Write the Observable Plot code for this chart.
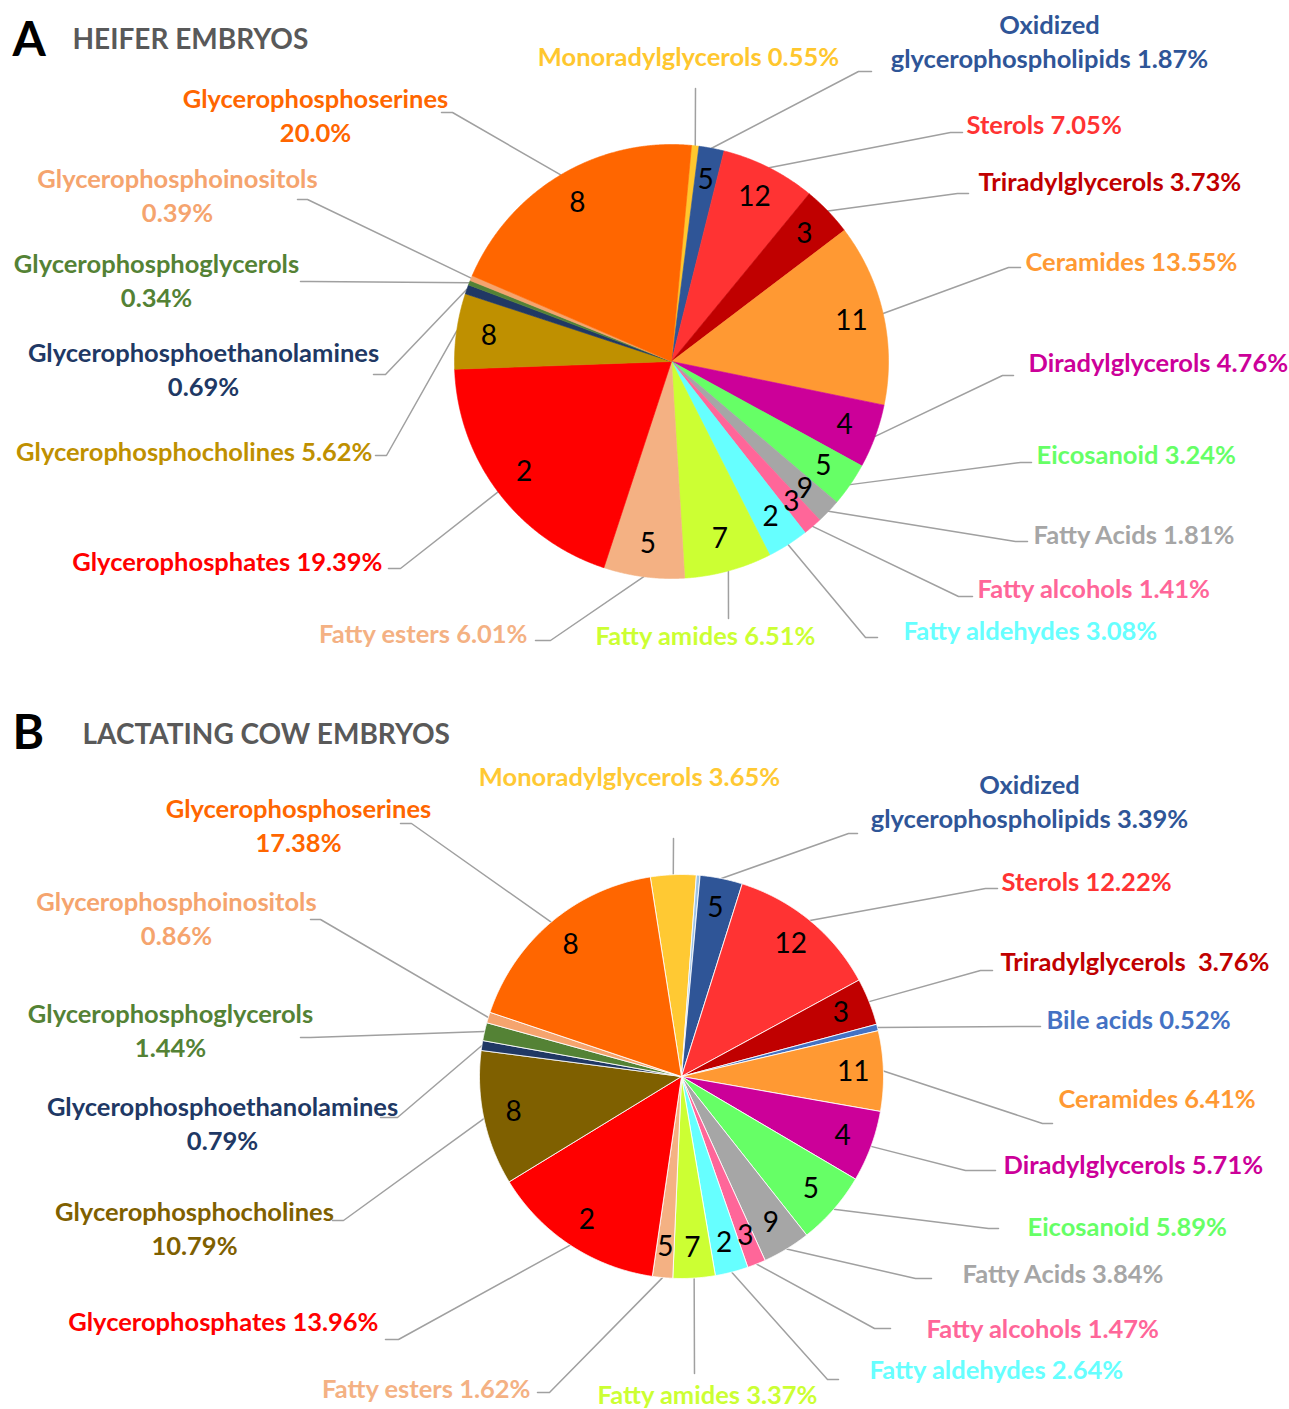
<!DOCTYPE html>
<html>
<head>
<meta charset="utf-8">
<script src="https://cdn.jsdelivr.net/npm/d3@7"></script>
<script src="https://cdn.jsdelivr.net/npm/@observablehq/plot@0.6"></script>
<style>
  html, body { margin: 0; padding: 0; background: #ffffff; }
  #chart svg { display: block; }
</style>
</head>
<body>
<div id="chart"></div>
<script>
// ---------------- DATA ----------------
const panelLetters = ["A", "B"];
const panelTitles = ["HEIFER EMBRYOS", "LACTATING COW EMBRYOS"];

// Panel A: heifer embryos
const categoriesA = ["Monoradylglycerols", "Oxidized glycerophospholipids", "Sterols", "Triradylglycerols", "Ceramides", "Diradylglycerols", "Eicosanoid", "Fatty Acids", "Fatty alcohols", "Fatty aldehydes", "Fatty amides", "Fatty esters", "Glycerophosphates", "Glycerophosphocholines", "Glycerophosphoethanolamines", "Glycerophosphoglycerols", "Glycerophosphoinositols", "Glycerophosphoserines"];
const percentA = [0.55, 1.87, 7.05, 3.73, 13.55, 4.76, 3.24, 1.81, 1.41, 3.08, 6.51, 6.01, 19.39, 5.62, 0.69, 0.34, 0.39, 20.0];
const countsA = [null, 5, 12, 3, 11, 4, 5, 9, 3, 2, 7, 5, 2, 8, null, null, null, 8];
const labelsA = ["Monoradylglycerols 0.55%", "Oxidized\nglycerophospholipids 1.87%", "Sterols 7.05%", "Triradylglycerols 3.73%", "Ceramides 13.55%", "Diradylglycerols 4.76%", "Eicosanoid 3.24%", "Fatty Acids 1.81%", "Fatty alcohols 1.41%", "Fatty aldehydes 3.08%", "Fatty amides 6.51%", "Fatty esters 6.01%", "Glycerophosphates 19.39%", "Glycerophosphocholines 5.62%", "Glycerophosphoethanolamines\n0.69%", "Glycerophosphoglycerols\n0.34%", "Glycerophosphoinositols\n0.39%", "Glycerophosphoserines\n20.0%"];
const colorsA = ["#FFC72E", "#2F5597", "#FF3333", "#C00000", "#FF9933", "#CC0099", "#66FF66", "#A6A6A6", "#FF6699", "#66FFFF", "#CCFF33", "#F4B183", "#FF0000", "#BF9000", "#203864", "#548235", "#F5A46E", "#FF6600"];

// Panel B: lactating cow embryos (one thin unlabeled sliver after Monoradylglycerols)
const categoriesB = ["Monoradylglycerols", "(unlabeled)", "Oxidized glycerophospholipids", "Sterols", "Triradylglycerols", "Bile acids", "Ceramides", "Diradylglycerols", "Eicosanoid", "Fatty Acids", "Fatty alcohols", "Fatty aldehydes", "Fatty amides", "Fatty esters", "Glycerophosphates", "Glycerophosphocholines", "Glycerophosphoethanolamines", "Glycerophosphoglycerols", "Glycerophosphoinositols", "Glycerophosphoserines"];
const percentB = [3.65, 0.29, 3.39, 12.22, 3.76, 0.52, 6.41, 5.71, 5.89, 3.84, 1.47, 2.64, 3.37, 1.62, 13.96, 10.79, 0.79, 1.44, 0.86, 17.38];
const countsB = [null, null, 5, 12, 3, null, 11, 4, 5, 9, 3, 2, 7, 5, 2, 8, null, null, null, 8];
const labelsB = ["Monoradylglycerols 3.65%", null, "Oxidized\nglycerophospholipids 3.39%", "Sterols 12.22%", "Triradylglycerols\u00a0 3.76%", "Bile acids 0.52%", "Ceramides 6.41%", "Diradylglycerols 5.71%", "Eicosanoid 5.89%", "Fatty Acids 3.84%", "Fatty alcohols 1.47%", "Fatty aldehydes 2.64%", "Fatty amides 3.37%", "Fatty esters 1.62%", "Glycerophosphates 13.96%", "Glycerophosphocholines\n10.79%", "Glycerophosphoethanolamines\n0.79%", "Glycerophosphoglycerols\n1.44%", "Glycerophosphoinositols\n0.86%", "Glycerophosphoserines\n17.38%"];
const colorsB = ["#FFC933", "#9DC3E6", "#2F5597", "#FF3333", "#C00000", "#4472C4", "#FF9933", "#CC0099", "#66FF66", "#A6A6A6", "#FF6699", "#66FFFF", "#CCFF33", "#F4B183", "#FF0000", "#7F6000", "#203864", "#548235", "#F5A46E", "#FF6600"];

// ---------------- LAYOUT ----------------
const W = 1289, H = 1409;
const pieA = {id: "A", cx: 671, cy: 361, r: 217, rot: 5.3, stroke: null};
const pieB = {id: "B", cx: 681, cy: 1076, r: 202, rot: -8.9, stroke: "#ffffff"};
// label placement: [textX, textY, anchor, elbowX, elbowY, leaderEndX]
const labelPosA = [
  [688, 55, "middle", 695, 88, 695],
  [1049, 40, "middle", 858, 71, 871],
  [966, 123, "start", 950, 132, 962],
  [978, 180, "start", 957, 193, 968],
  [1025, 260, "start", 1008, 267, 1020],
  [1028, 361, "start", 1002, 375, 1013],
  [1036, 453, "start", 1020, 462, 1031],
  [1033, 533, "start", 1015, 541, 1027],
  [977, 587, "start", 958, 596, 972],
  [903, 629, "start", 865, 637, 877],
  [705, 634, "middle", 728, 618, 728],
  [527, 632, "end", 550, 640, 535],
  [382, 560, "end", 400, 568, 388],
  [372, 450, "end", 386, 455, 375],
  [203, 368, "middle", 385, 374, 373],
  [156, 279, "middle", 310, 281, 300],
  [177, 194, "middle", 307, 199, 297],
  [315, 114, "middle", 452, 112, 441]
];
const labelPosB = [
  [629, 775, "middle", 673, 838, 673],
  null,
  [1029, 800, "middle", 848, 833, 857],
  [1001, 880, "start", 985, 888, 997],
  [1000, 960, "start", 980, 970, 992],
  [1046, 1018, "start", 1030, 1026, 1040],
  [1058, 1097, "start", 1042, 1123, 1052],
  [1003, 1163, "start", 965, 1170, 995],
  [1027, 1225, "start", 988, 1228, 998],
  [962, 1272, "start", 915, 1278, 931],
  [926, 1327, "start", 874, 1328, 890],
  [869, 1368, "start", 827, 1379, 838],
  [707, 1393, "middle", 694, 1373, 694],
  [530, 1387, "end", 549, 1392, 537],
  [378, 1320, "end", 398, 1339, 385],
  [194, 1227, "middle", 343, 1220, 332],
  [222, 1122, "middle", 397, 1117, 380],
  [170, 1029, "middle", 310, 1037, 300],
  [176, 917, "middle", 320, 919, 310],
  [298, 824, "middle", 411, 823, 400]
];
const titlePos = [[12, 40, 72, 40], [12, 733, 82, 735]];

function build(panel, cats, vals, counts, labels, colors, pos) {
  const rot = panel.rot * Math.PI / 180;
  const arcs = d3.pie().sort(null).value(d => d).startAngle(rot).endAngle(rot + 2 * Math.PI)(vals);
  const pt = (a, rr) => ({x: panel.cx + rr * Math.sin(a), y: panel.cy - rr * Math.cos(a)});
  const polys = [], nums = [], leaders = [], texts = [];
  arcs.forEach((arc, i) => {
    const key = panel.id + "-" + cats[i];
    polys.push({key, color: colors[i], ...pt(0, 0)});
    const span = arc.endAngle - arc.startAngle;
    const n = Math.max(2, Math.ceil(span / 0.004));
    for (let k = 0; k <= n; k++) {
      polys.push({key, color: colors[i], ...pt(arc.startAngle + span * k / n, panel.r)});
    }
    polys.push({key, color: colors[i], ...pt(0, 0)});
    const mid = (arc.startAngle + arc.endAngle) / 2;
    if (counts[i] != null) nums.push({...pt(mid, panel.r * 0.85), t: String(counts[i])});
    const p = pos[i];
    if (p && labels[i]) {
      const s = pt(mid, panel.r);
      leaders.push({key, x: s.x, y: s.y}, {key, x: p[3], y: p[4]}, {key, x: p[5], y: p[4]});
      texts.push({x: p[0], y: p[1], anchor: p[2], t: labels[i], color: colors[i]});
    }
  });
  return {polys, nums, leaders, texts, panel};
}

const A = build(pieA, categoriesA, percentA, countsA, labelsA, colorsA, labelPosA);
const B = build(pieB, categoriesB, percentB, countsB, labelsB, colorsB, labelPosB);

const font = "Lato, 'Open Sans', 'DejaVu Sans', sans-serif";
const marks = [];
for (const P of [A, B]) {
  marks.push(Plot.line(P.leaders, {x: "x", y: "y", z: "key", stroke: "#A0A0A0", strokeWidth: 1.5, curve: "linear"}));
  marks.push(Plot.line(P.polys, {
    x: "x", y: "y", z: "key", fill: "color",
    stroke: P.panel.stroke ? P.panel.stroke : "color",
    strokeWidth: P.panel.stroke ? 1 : 0.6, strokeOpacity: P.panel.stroke ? 0.85 : 1,
    curve: "linear"
  }));
  marks.push(Plot.text(P.nums, {x: "x", y: "y", text: "t", fill: "#000000", fontSize: 28, fontWeight: "normal"}));
  for (const anchor of ["start", "middle", "end"]) {
    marks.push(Plot.text(P.texts.filter(d => d.anchor === anchor), {
      x: "x", y: "y", text: "t", fill: "color", textAnchor: anchor,
      lineAnchor: "middle", lineHeight: 1.33, fontSize: 25.5, fontWeight: "bold"
    }));
  }
}
const titles = panelLetters.map((l, i) => ({letter: l, title: panelTitles[i], lx: titlePos[i][0], ly: titlePos[i][1], tx: titlePos[i][2], ty: titlePos[i][3]}));
marks.push(Plot.text(titles, {x: "lx", y: "ly", text: "letter", textAnchor: "start", lineAnchor: "middle", fontSize: 48, fontWeight: "bold", fill: "#000000"}));
marks.push(Plot.text(titles, {x: "tx", y: "ty", text: "title", textAnchor: "start", lineAnchor: "middle", fontSize: 28, fontWeight: "bold", fill: "#595959"}));

const chart = Plot.plot({
  width: W, height: H, margin: 0,
  x: {domain: [0, W], range: [0, W], axis: null},
  y: {domain: [0, H], range: [0, H], axis: null},
  color: {type: "identity"},
  style: {fontFamily: font, background: "#ffffff", overflow: "visible"},
  marks
});
document.getElementById("chart").appendChild(chart);
</script>
</body>
</html>
